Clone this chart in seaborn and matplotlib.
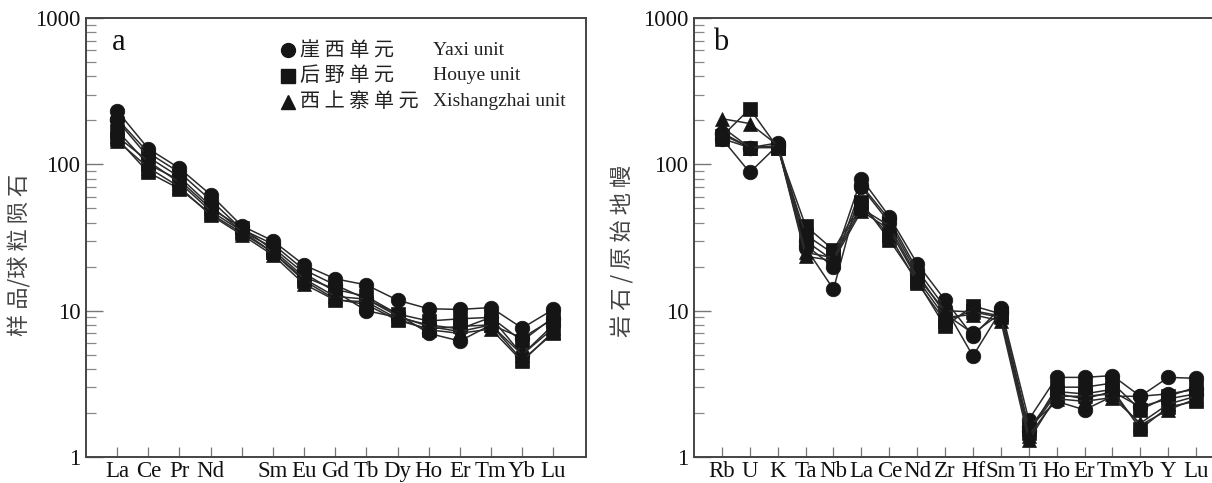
import numpy as np
import pandas as pd
import matplotlib
matplotlib.use("Agg")
import matplotlib.pyplot as plt
import seaborn as sns

# ---------------- data ----------------
ree_elements = ["La", "Ce", "Pr", "Nd", "Pm", "Sm", "Eu", "Gd", "Tb", "Dy", "Ho", "Er", "Tm", "Yb", "Lu"]
ree_labels = ["La", "Ce", "Pr", "Nd", "", "Sm", "Eu", "Gd", "Tb", "Dy", "Ho", "Er", "Tm", "Yb", "Lu"]

spider_elements = ["Rb", "U", "K", "Ta", "Nb", "La", "Ce", "Nd", "Zr", "Hf", "Sm", "Ti", "Ho", "Er", "Tm", "Yb", "Y", "Lu"]

samples = ["Y1", "Y2", "Y3", "H1", "H2", "X1", "X2"]
sample_units = ["Yaxi", "Yaxi", "Yaxi", "Houye", "Houye", "Xishangzhai", "Xishangzhai"]

ree_Y1 = [232, 128, 94, 62, 38, 30, 20.5, 16.5, 15.0, 11.8, 10.3, 10.2, 10.5, 7.6, 10.2]
ree_Y2 = [205, 120, 88, 57, 36, 28.5, 19.0, 15.0, 12.0, 9.5, 7.0, 6.2, 8.0, 6.5, 8.8]
ree_Y3 = [200, 112, 82, 52, 35, 27, 18.0, 13.5, 10.0, 9.0, 8.0, 7.5, 9.0, 5.0, 8.0]
ree_H1 = [170, 100, 78, 50, 37, 26, 17.0, 14.0, 12.5, 9.5, 8.5, 8.8, 9.0, 6.2, 9.0]
ree_H2 = [150, 88, 68, 46, 34, 25, 16.0, 12.0, 11.0, 8.6, 7.5, 7.8, 8.0, 4.6, 7.0]
ree_X1 = [145, 95, 70, 45, 33, 24, 15.2, 11.8, 11.5, 8.8, 7.4, 7.0, 7.5, 4.5, 7.2]
ree_X2 = [155, 105, 75, 48, 35, 25, 16.5, 12.5, 12.0, 9.2, 7.8, 7.2, 8.0, 5.0, 7.6]

sp_Y1 = [165, 130, 140, 30, 22, 80, 44, 21, 11.8, 6.7, 10.5, 1.8, 3.5, 3.5, 3.6, 2.6, 3.5, 3.45]
sp_Y2 = [150, 88, 135, 27, 14, 72, 42, 19, 10.5, 4.9, 10.0, 1.6, 2.4, 2.1, 2.6, 2.6, 2.7, 2.9]
sp_Y3 = [160, 130, 132, 28, 20, 70, 40, 18, 9.5, 7.0, 9.6, 1.5, 2.7, 2.5, 2.8, 2.2, 2.5, 2.7]
sp_H1 = [155, 240, 130, 38, 26, 55, 30.5, 16, 7.8, 10.8, 9.5, 1.45, 3.0, 3.0, 3.2, 2.1, 2.6, 3.0]
sp_H2 = [150, 130, 130, 33, 24.5, 52, 33, 15.5, 8.5, 10.0, 9.2, 1.55, 2.8, 2.7, 2.9, 1.55, 2.2, 2.4]
sp_X1 = [205, 190, 135, 23.5, 22, 48, 36, 16.5, 9.0, 9.4, 8.5, 1.3, 2.6, 2.6, 2.7, 1.65, 2.1, 2.5]
sp_X2 = [180, 130, 134, 25, 23, 50, 38, 17, 10.0, 9.8, 9.0, 1.4, 2.5, 2.4, 2.55, 1.7, 2.3, 2.6]

ree_values = [ree_Y1, ree_Y2, ree_Y3, ree_H1, ree_H2, ree_X1, ree_X2]
sp_values = [sp_Y1, sp_Y2, sp_Y3, sp_H1, sp_H2, sp_X1, sp_X2]

unit_order = ["Yaxi", "Houye", "Xishangzhai"]
unit_cn = ["崖 西 单 元", "后 野 单 元", "西 上 寨 单 元"]
unit_en = ["Yaxi unit", "Houye unit", "Xishangzhai unit"]
unit_markers = {"Yaxi": "o", "Houye": "s", "Xishangzhai": "^"}


def long_frame(values, elements):
    rows = []
    for s, u, vals in zip(samples, sample_units, values):
        for i, v in enumerate(vals):
            rows.append({"sample": s, "unit": u, "pos": i, "value": v})
    return pd.DataFrame(rows)


df_ree = long_frame(ree_values, ree_elements)
df_sp = long_frame(sp_values, spider_elements)

# ---------------- style ----------------
sns.set_theme(style="ticks")
plt.rcParams["font.family"] = ["Liberation Serif", "Noto Sans CJK SC"]
plt.rcParams["axes.edgecolor"] = "#444444"
plt.rcParams["axes.linewidth"] = 1.4

W, H = 1212, 483
fig = plt.figure(figsize=(W / 100, H / 100), dpi=100)

ax_a = fig.add_axes([86 / W, 1 - 457 / H, 500 / W, 439 / H])
ax_b = fig.add_axes([694 / W, 1 - 457 / H, 530 / W, 439 / H])

line_col = "#2b2b2b"
mark_col = "#151515"


def draw(ax, df, labels, n, ylab, letter, letter_x):
    sns.lineplot(data=df, x="pos", y="value", units="sample", estimator=None,
                 style="unit", markers=unit_markers, dashes=False, style_order=unit_order,
                 color=line_col, linewidth=1.1, markersize=10.5,
                 markeredgecolor=mark_col, markerfacecolor=mark_col, markeredgewidth=0.5,
                 legend=False, ax=ax, sort=False)
    ax.set_yscale("log")
    ax.set_ylim(1, 1000)
    ax.set_xlim(-1, n)
    ax.set_xticks(range(len(labels)))
    ax.set_xticklabels(labels, fontsize=16.5)
    ax.set_yticks([1, 10, 100, 1000])
    ax.set_yticklabels(["1", "10", "100", "1000"], fontsize=16.5)
    ax.yaxis.set_minor_locator(matplotlib.ticker.LogLocator(base=10, subs=np.arange(2, 10)))
    ax.yaxis.set_minor_formatter(matplotlib.ticker.NullFormatter())
    ax.tick_params(axis="y", which="major", direction="in", length=12, width=1.0,
                   color="#777777", pad=4, left=True)
    ax.tick_params(axis="y", which="minor", direction="in", length=7, width=0.9,
                   color="#888888", left=True)
    ax.tick_params(axis="x", which="major", direction="in", length=7, width=0.9,
                   color="#777777", pad=3, bottom=True)
    ax.tick_params(axis="x", which="minor", bottom=False)
    ax.set_xlabel("")
    ax.set_ylabel(ylab, family=["Noto Sans CJK SC"], fontsize=16, color="#444444")
    for t in ax.get_xticklabels() + ax.get_yticklabels():
        t.set_color("#111111")
    ax.text(letter_x, 0.945, letter, transform=ax.transAxes, fontsize=22,
            ha="left", va="center", color="#111111")


draw(ax_a, df_ree, ree_labels, 15.05, "样 品/球 粒 陨 石", "a", 0.052)
draw(ax_b, df_sp, spider_elements, 18, "岩 石 / 原 始 地 幔", "b", 0.036)
ax_a.yaxis.set_label_coords(-0.108, 0.46)
ax_b.yaxis.set_label_coords(-0.113, 0.47)

# legend of panel a (glyphs and two-language labels)
leg_rows = [0.927, 0.868, 0.809]
for u, cn, en, yy in zip(unit_order, unit_cn, unit_en, leg_rows):
    ax_a.plot([0.404], [yy], marker=unit_markers[u], color=mark_col, markersize=10,
              transform=ax_a.transAxes, linestyle="none", clip_on=False)
    ax_a.text(0.428, yy, cn, transform=ax_a.transAxes, family=["Noto Sans CJK SC"],
              fontsize=14.5, va="center", ha="left", color="#222222")
    ax_a.text(0.694, yy, en, transform=ax_a.transAxes, fontsize=14,
              va="center", ha="left", color="#222222")

fig.savefig("out.png", dpi=100)
